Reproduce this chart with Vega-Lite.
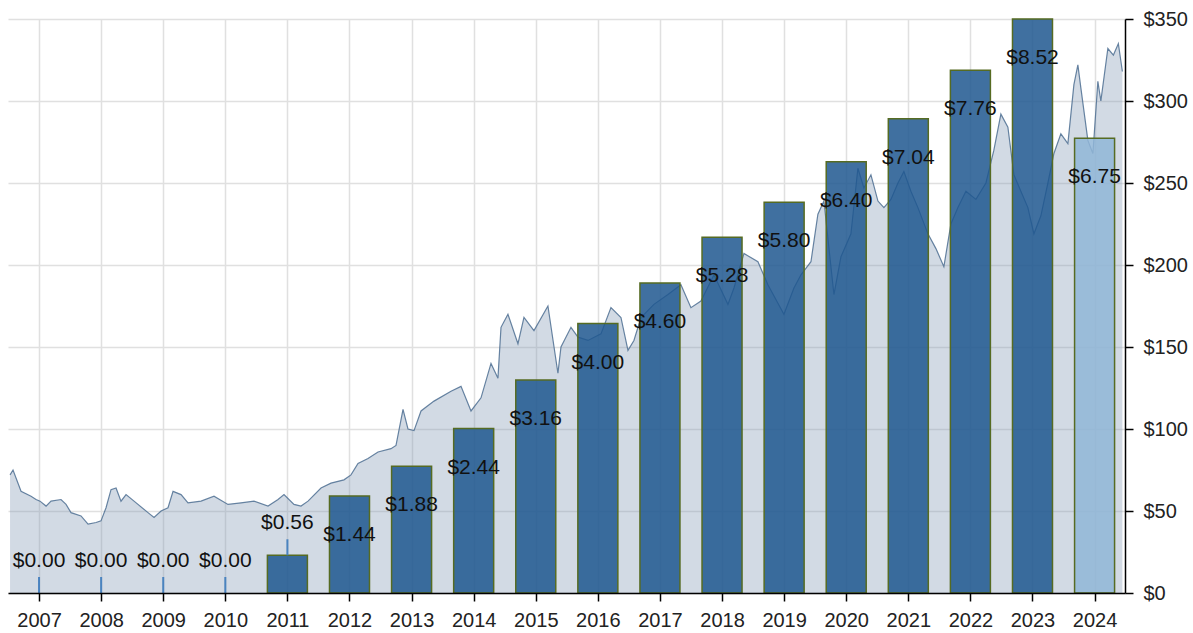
{
  "$schema": "https://vega.github.io/schema/vega-lite/v6.json",
  "width": 1117,
  "height": 574,
  "autosize": {"type": "none"},
  "padding": {"left": 8, "top": 19, "right": 68, "bottom": 40},
  "background": "white",
  "config": {
    "view": {"stroke": null},
    "font": "Liberation Sans",
    "scale": {"continuousPadding": 0},
    "axis": {
      "labelFont": "Liberation Sans",
      "labelFontSize": 20,
      "labelColor": "#222222",
      "domainColor": "#000000",
      "domainWidth": 1.5,
      "tickColor": "#000000",
      "tickWidth": 1.5,
      "tickSize": 8,
      "gridColor": "#e0e0e0",
      "gridWidth": 1.5,
      "title": null
    }
  },
  "layer": [
    {
      "data": {"values": [
        {"t": 2006.533, "price": 72}, {"t": 2006.581, "price": 75}, {"t": 2006.710, "price": 62}, {"t": 2006.871, "price": 59},
        {"t": 2006.952, "price": 57}, {"t": 2007.016, "price": 56}, {"t": 2007.113, "price": 53}, {"t": 2007.193, "price": 56},
        {"t": 2007.354, "price": 57}, {"t": 2007.435, "price": 54}, {"t": 2007.515, "price": 49}, {"t": 2007.676, "price": 47},
        {"t": 2007.789, "price": 42}, {"t": 2007.918, "price": 43}, {"t": 2007.998, "price": 44}, {"t": 2008.079, "price": 52},
        {"t": 2008.159, "price": 63}, {"t": 2008.240, "price": 64}, {"t": 2008.320, "price": 56}, {"t": 2008.401, "price": 60},
        {"t": 2008.530, "price": 56}, {"t": 2008.755, "price": 49}, {"t": 2008.852, "price": 46}, {"t": 2008.965, "price": 50},
        {"t": 2009.077, "price": 52}, {"t": 2009.158, "price": 62}, {"t": 2009.287, "price": 60}, {"t": 2009.399, "price": 55},
        {"t": 2009.609, "price": 56}, {"t": 2009.818, "price": 59}, {"t": 2010.043, "price": 54}, {"t": 2010.253, "price": 55},
        {"t": 2010.462, "price": 56}, {"t": 2010.688, "price": 53}, {"t": 2010.849, "price": 57}, {"t": 2010.945, "price": 60},
        {"t": 2011.106, "price": 54}, {"t": 2011.219, "price": 53}, {"t": 2011.332, "price": 56}, {"t": 2011.541, "price": 64},
        {"t": 2011.702, "price": 67}, {"t": 2011.911, "price": 69}, {"t": 2012.024, "price": 72}, {"t": 2012.137, "price": 79},
        {"t": 2012.298, "price": 82}, {"t": 2012.459, "price": 86}, {"t": 2012.668, "price": 88}, {"t": 2012.749, "price": 90},
        {"t": 2012.862, "price": 112}, {"t": 2012.942, "price": 100}, {"t": 2013.039, "price": 99}, {"t": 2013.152, "price": 111},
        {"t": 2013.361, "price": 117}, {"t": 2013.635, "price": 123}, {"t": 2013.796, "price": 126}, {"t": 2013.957, "price": 111},
        {"t": 2014.118, "price": 119}, {"t": 2014.279, "price": 140}, {"t": 2014.391, "price": 131}, {"t": 2014.440, "price": 162},
        {"t": 2014.552, "price": 170}, {"t": 2014.713, "price": 152}, {"t": 2014.810, "price": 168}, {"t": 2014.971, "price": 160},
        {"t": 2015.196, "price": 175}, {"t": 2015.357, "price": 134}, {"t": 2015.406, "price": 150}, {"t": 2015.567, "price": 162},
        {"t": 2015.680, "price": 156}, {"t": 2015.841, "price": 154}, {"t": 2016.050, "price": 158}, {"t": 2016.211, "price": 174},
        {"t": 2016.372, "price": 168}, {"t": 2016.485, "price": 148}, {"t": 2016.581, "price": 154}, {"t": 2016.694, "price": 168},
        {"t": 2016.903, "price": 176}, {"t": 2017.129, "price": 182}, {"t": 2017.338, "price": 188}, {"t": 2017.499, "price": 174},
        {"t": 2017.660, "price": 178}, {"t": 2017.870, "price": 194}, {"t": 2018.095, "price": 176}, {"t": 2018.192, "price": 186},
        {"t": 2018.353, "price": 207}, {"t": 2018.578, "price": 202}, {"t": 2018.739, "price": 188}, {"t": 2018.997, "price": 170},
        {"t": 2019.158, "price": 186}, {"t": 2019.271, "price": 194}, {"t": 2019.432, "price": 202}, {"t": 2019.544, "price": 231},
        {"t": 2019.641, "price": 239}, {"t": 2019.802, "price": 182}, {"t": 2019.915, "price": 205}, {"t": 2020.076, "price": 219},
        {"t": 2020.188, "price": 259}, {"t": 2020.285, "price": 247}, {"t": 2020.398, "price": 255}, {"t": 2020.511, "price": 239},
        {"t": 2020.607, "price": 235}, {"t": 2020.720, "price": 240}, {"t": 2020.833, "price": 250}, {"t": 2020.929, "price": 257},
        {"t": 2021.042, "price": 245}, {"t": 2021.155, "price": 235}, {"t": 2021.316, "price": 219}, {"t": 2021.445, "price": 210},
        {"t": 2021.573, "price": 199}, {"t": 2021.686, "price": 225}, {"t": 2021.799, "price": 235}, {"t": 2021.928, "price": 245},
        {"t": 2022.089, "price": 240}, {"t": 2022.250, "price": 250}, {"t": 2022.378, "price": 270}, {"t": 2022.491, "price": 292},
        {"t": 2022.604, "price": 284}, {"t": 2022.701, "price": 255}, {"t": 2022.813, "price": 245}, {"t": 2022.926, "price": 235},
        {"t": 2023.023, "price": 219}, {"t": 2023.135, "price": 230}, {"t": 2023.248, "price": 250}, {"t": 2023.345, "price": 268},
        {"t": 2023.457, "price": 280}, {"t": 2023.570, "price": 274}, {"t": 2023.667, "price": 310}, {"t": 2023.731, "price": 322},
        {"t": 2023.779, "price": 308}, {"t": 2023.892, "price": 276}, {"t": 2023.973, "price": 268}, {"t": 2024.053, "price": 312},
        {"t": 2024.101, "price": 300}, {"t": 2024.214, "price": 332}, {"t": 2024.303, "price": 328}, {"t": 2024.383, "price": 335},
        {"t": 2024.448, "price": 318}
      ]},
      "mark": {
        "type": "area",
        "fill": "#7d96b2",
        "fillOpacity": 0.35,
        "line": {"stroke": "#4d6f92", "strokeWidth": 1.2, "strokeOpacity": 0.85}
      },
      "encoding": {
        "x": {
          "field": "t",
          "type": "quantitative",
          "scale": {"domain": [2006.5, 2024.49], "nice": false, "zero": false, "padding": 0},
          "axis": {
            "orient": "bottom",
            "values": [2007, 2008, 2009, 2010, 2011, 2012, 2013, 2014, 2015, 2016, 2017, 2018, 2019, 2020, 2021, 2022, 2023, 2024],
            "grid": true,
            "labels": false,
            "ticks": false,
            "domain": false,
            "zindex": 0
          }
        },
        "y": {
          "field": "price",
          "type": "quantitative",
          "scale": {"domain": [0, 350], "nice": false},
          "axis": {
            "orient": "right",
            "values": [0, 50, 100, 150, 200, 250, 300, 350],
            "format": "$.0f",
            "grid": true,
            "labelPadding": 10,
            "zindex": 0
          }
        }
      }
    },
    {
      "data": {"values": [
        {"year": 2007, "div": 0, "kind": "paid"},
        {"year": 2008, "div": 0, "kind": "paid"},
        {"year": 2009, "div": 0, "kind": "paid"},
        {"year": 2010, "div": 0, "kind": "paid"},
        {"year": 2011, "div": 0.56, "kind": "paid"},
        {"year": 2012, "div": 1.44, "kind": "paid"},
        {"year": 2013, "div": 1.88, "kind": "paid"},
        {"year": 2014, "div": 2.44, "kind": "paid"},
        {"year": 2015, "div": 3.16, "kind": "paid"},
        {"year": 2016, "div": 4.00, "kind": "paid"},
        {"year": 2017, "div": 4.60, "kind": "paid"},
        {"year": 2018, "div": 5.28, "kind": "paid"},
        {"year": 2019, "div": 5.80, "kind": "paid"},
        {"year": 2020, "div": 6.40, "kind": "paid"},
        {"year": 2021, "div": 7.04, "kind": "paid"},
        {"year": 2022, "div": 7.76, "kind": "paid"},
        {"year": 2023, "div": 8.52, "kind": "paid"},
        {"year": 2024, "div": 6.75, "kind": "estimate"}
      ]},
      "encoding": {
        "x": {
          "field": "year",
          "type": "quantitative",
          "axis": {
            "orient": "bottom",
            "values": [2007, 2008, 2009, 2010, 2011, 2012, 2013, 2014, 2015, 2016, 2017, 2018, 2019, 2020, 2021, 2022, 2023, 2024],
            "format": "d",
            "grid": false,
            "labelPadding": 9,
            "zindex": 1
          }
        },
        "y": {
          "field": "div",
          "type": "quantitative",
          "scale": {"domain": [0, 8.52], "nice": false},
          "axis": null
        }
      },
      "layer": [
        {
          "mark": {"type": "bar", "width": 40, "fillOpacity": 0.85, "stroke": "#566b22", "strokeWidth": 1.5},
          "transform": [{"filter": "datum.div > 0"}],
          "encoding": {
            "color": {
              "field": "kind",
              "type": "nominal",
              "scale": {"domain": ["paid", "estimate"], "range": ["#1f578f", "#91b6d7"]},
              "legend": null
            }
          }
        },
        {
          "transform": [{"filter": "datum.div < 1"}],
          "mark": {"type": "tick", "orient": "vertical", "size": 16, "thickness": 2, "color": "#4a83bf", "yOffset": -8, "opacity": 1},
          "encoding": {}
        },
        {
          "transform": [{"filter": "datum.div >= 1"}],
          "mark": {"type": "text", "dy": 39, "baseline": "middle", "fontSize": 21, "font": "Liberation Sans", "color": "#111111"},
          "encoding": {"text": {"field": "div", "type": "quantitative", "format": "$.2f"}}
        },
        {
          "transform": [{"filter": "datum.div < 1"}],
          "mark": {"type": "text", "dy": -32, "baseline": "middle", "fontSize": 21, "font": "Liberation Sans", "color": "#111111"},
          "encoding": {"text": {"field": "div", "type": "quantitative", "format": "$.2f"}}
        }
      ]
    }
  ],
  "resolve": {"scale": {"y": "independent"}, "axis": {"x": "independent"}}
}
